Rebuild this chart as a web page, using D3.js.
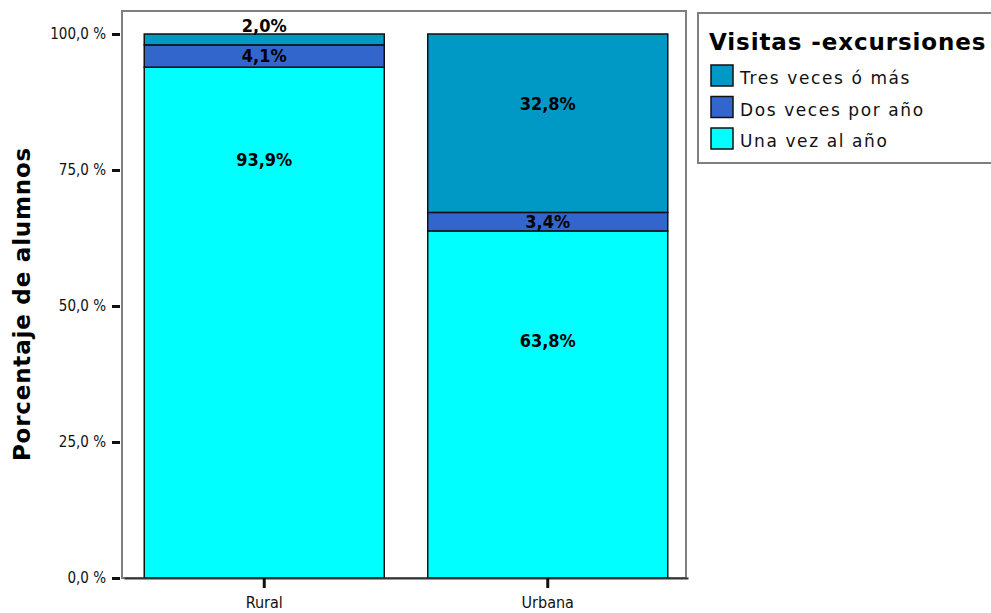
<!DOCTYPE html>
<html><head><meta charset="utf-8">
<script src="https://cdn.jsdelivr.net/npm/d3@7"></script>
<style>body{margin:0;background:#fff}svg{display:block}</style>
</head><body>
<svg id="chart" width="991" height="613"></svg>
<script>
const categories = ["Rural", "Urbana"];
const seriesNames = ["Una vez al año", "Dos veces por año", "Tres veces ó más"];
const unaVez = [93.9, 63.8];
const dosVeces = [4.1, 3.4];
const tresVeces = [2.0, 32.8];
const seriesColors = ["#00ffff", "#3366cc", "#0099c6"];
// label anchor positions (in percent units)
const labelUnaVez = [77.0, 43.6];
const labelDosVeces = [96.0, 65.5];
const labelTresVeces = [101.6, 87.3];
const yTicks = [0, 25, 50, 75, 100];
const legendTitle = "Visitas -excursiones";
const yTitle = "Porcentaje de alumnos";

const svg = d3.select("#chart");
const frame = {left: 122, top: 11, right: 686, bottom: 578};

const x = d3.scaleBand().domain(categories).range([124, 688])
  .paddingInner(0.1534).paddingOuter(0.0714);
const y = d3.scaleLinear().domain([0, 100]).range([578, 34]);

const values = [unaVez, dosVeces, tresVeces];
const labelPos = [labelUnaVez, labelDosVeces, labelTresVeces];
const fmt = v => d3.format(".1f")(v).replace(".", ",") + "%";

// frame
svg.append("rect").attr("x", frame.left).attr("y", frame.top)
  .attr("width", frame.right - frame.left).attr("height", frame.bottom - frame.top)
  .attr("fill", "#fff").attr("stroke", "#7f7f7f").attr("stroke-width", 2);

// stacked bars
const stackData = categories.map((c, i) => {
  let base = 0;
  return values.map((arr, s) => {
    const seg = {cat: c, s, y0: base, y1: base + arr[i], v: arr[i], lab: labelPos[s][i]};
    base += arr[i];
    return seg;
  });
}).flat();

svg.append("g").selectAll("rect").data(stackData).join("rect")
  .attr("x", d => x(d.cat))
  .attr("width", x.bandwidth())
  .attr("y", d => y(d.y1))
  .attr("height", d => y(d.y0) - y(d.y1))
  .attr("fill", d => seriesColors[d.s])
  .attr("stroke", "#111").attr("stroke-width", 1.5);

svg.append("g").selectAll("text").data(stackData).join("text")
  .attr("x", d => x(d.cat) + x.bandwidth() / 2)
  .attr("y", d => y(d.lab))
  .attr("dy", "0.36em")
  .attr("text-anchor", "middle")
  .attr("font-family", "'DejaVu Sans Condensed', 'DejaVu Sans', sans-serif")
  .attr("font-weight", "bold").attr("font-size", 18).attr("fill", "#000")
  .text(d => fmt(d.v));

// y axis
const yAxis = d3.axisLeft(y).tickValues(yTicks).tickSize(8).tickSizeOuter(0).tickPadding(6)
  .tickFormat(v => d3.format(".1f")(v).replace(".", ",") + " %");
const gy = svg.append("g").attr("transform", `translate(${frame.left - 2},0)`).call(yAxis);
gy.select(".domain").remove();
gy.selectAll(".tick line").attr("stroke", "#111").attr("stroke-width", 3);
gy.selectAll(".tick text").attr("font-family", "'DejaVu Sans Condensed', sans-serif")
  .attr("font-size", 15).attr("fill", "#111");

// x axis
const xAxis = d3.axisBottom(x).tickSize(10).tickSizeOuter(0).tickPadding(9);
const gx = svg.append("g").attr("transform", `translate(0,${frame.bottom})`).call(xAxis);
gx.select(".domain").attr("stroke", "#333").attr("stroke-width", 2);
gx.selectAll(".tick line").attr("stroke", "#111").attr("stroke-width", 3);
gx.selectAll(".tick text").attr("font-family", "'DejaVu Sans Condensed', sans-serif")
  .attr("font-size", 16).attr("fill", "#111");

// y title
svg.append("text").attr("transform", "translate(30,304) rotate(-90)")
  .attr("text-anchor", "middle")
  .attr("font-family", "'DejaVu Sans', sans-serif").attr("font-weight", "bold")
  .attr("font-size", 23).attr("letter-spacing", 0.8).attr("fill", "#000").text(yTitle);

// legend
const lg = svg.append("g");
lg.append("rect").attr("x", 698).attr("y", 13).attr("width", 300).attr("height", 150)
  .attr("fill", "#fff").attr("stroke", "#7f7f7f").attr("stroke-width", 2);
lg.append("text").attr("x", 709).attr("y", 50)
  .attr("font-family", "'DejaVu Sans', sans-serif").attr("font-weight", "bold")
  .attr("font-size", 23).attr("letter-spacing", 0.9).attr("fill", "#000").text(legendTitle);
const legendOrder = [2, 1, 0];
legendOrder.forEach((s, i) => {
  const yy = 65 + i * 31.5;
  lg.append("rect").attr("x", 711).attr("y", yy).attr("width", 22).attr("height", 21)
    .attr("fill", seriesColors[s]).attr("stroke", "#111").attr("stroke-width", 1.5);
  lg.append("text").attr("x", 740).attr("y", yy + 19)
    .attr("font-family", "'DejaVu Sans', sans-serif")
    .attr("font-size", 17).attr("letter-spacing", 1.6).attr("fill", "#111").text(seriesNames[s]);
});
</script>
</body></html>
